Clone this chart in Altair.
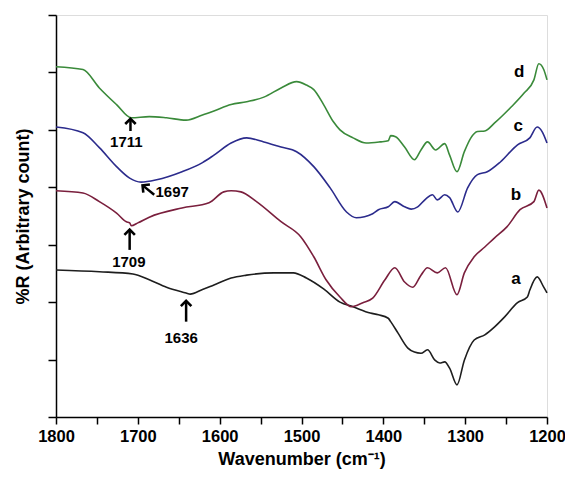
import altair as alt
import pandas as pd

# ---- spectra (wavenumber, %R arbitrary offset units) ----
wn_a = [1800,1747,1706,1686,1665,1641,1636,1621,1607,1586,1567,1534,1510,1494,1473,1453,1437,1416,1406,1394,
        1391,1382,1370,1362,1354,1346,1337,1331,1325,1319,1310,1301,1289,1276,1264,1252,1236,1224,1221,1212,1204,1200]
y_a = [2.56,2.53,2.49,2.39,2.26,2.16,2.14,2.22,2.30,2.42,2.47,2.51,2.51,2.42,2.23,2.00,1.92,1.81,1.78,1.72,
       1.66,1.46,1.20,1.13,1.11,1.17,0.99,0.94,0.96,0.85,0.56,0.99,1.34,1.43,1.57,1.74,1.99,2.09,2.21,2.44,2.26,2.16]

wn_b = [1800,1767,1747,1726,1714,1710,1708,1700,1686,1646,1613,1595,1586,1574,1555,1525,1501,1485,1470,1453,
        1439,1425,1413,1398,1386,1374,1364,1354,1346,1334,1324,1310,1301,1289,1276,1264,1249,1233,1216,1210,1200]
y_b = [3.94,3.90,3.75,3.55,3.40,3.38,3.33,3.38,3.48,3.64,3.73,3.92,3.94,3.92,3.75,3.40,3.14,2.79,2.39,2.09,
       1.92,1.99,2.07,2.39,2.60,2.35,2.26,2.47,2.60,2.51,2.60,2.13,2.51,2.79,2.96,3.12,3.31,3.61,3.75,3.95,3.64]

wn_c = [1800,1767,1747,1726,1710,1696,1677,1646,1621,1607,1586,1567,1546,1525,1506,1485,1465,1445,1433,1413,
        1406,1394,1386,1374,1366,1358,1348,1340,1334,1325,1319,1309,1297,1285,1273,1257,1236,1221,1212,1206,1200]
y_c = [5.05,4.95,4.69,4.36,4.16,4.09,4.13,4.27,4.43,4.56,4.77,4.86,4.79,4.70,4.62,4.36,3.99,3.57,3.47,3.54,
       3.61,3.66,3.75,3.66,3.62,3.66,3.80,3.87,3.78,3.87,3.82,3.57,3.99,4.22,4.27,4.44,4.74,4.86,5.05,4.97,4.77]

wn_d = [1800,1767,1747,1726,1708,1686,1665,1641,1621,1607,1586,1567,1546,1525,1506,1494,1485,1473,1461,1453,
        1437,1421,1404,1394,1391,1385,1374,1362,1354,1346,1336,1325,1319,1310,1301,1293,1285,1276,1264,1245,
        1228,1216,1210,1204,1200]
y_d = [6.10,6.05,5.73,5.44,5.21,5.23,5.21,5.17,5.26,5.33,5.44,5.49,5.57,5.73,5.84,5.78,5.70,5.44,5.14,5.00,
       4.86,4.77,4.79,4.81,4.90,4.88,4.70,4.48,4.65,4.79,4.65,4.76,4.56,4.27,4.62,4.86,4.97,4.98,5.12,5.38,
       5.64,5.87,6.15,6.05,5.87]

series_names = ["a", "b", "c", "d"]
series_colors = ["#1e1e1e", "#7a1f3d", "#2b2b8c", "#3a8a3a"]

# curve labels
lab_text = ["a", "b", "c", "d"]
lab_wn = [1238, 1238, 1235, 1234]
lab_y = [2.40, 3.87, 5.07, 6.01]

# peak annotations
ann_text = ["1711", "1697", "1709", "1636"]
ann_wn = [1714, 1658, 1711, 1647]
ann_y = [4.79, 3.92, 2.70, 1.38]
arr_tip_wn = [1709, 1693, 1710, 1641]
arr_tip_y = [5.17, 4.02, 3.24, 2.00]
arr_tail_wn = [1709, 1680, 1710, 1641]
arr_tail_y = [4.98, 3.87, 2.91, 1.66]
arr_angle = [0, 309, 0, 0]

rows = []
for name, wn, yy in zip(series_names, [wn_a, wn_b, wn_c, wn_d], [y_a, y_b, y_c, y_d]):
    for w, v in zip(wn, yy):
        rows.append({"series": name, "wn": w, "R": v})
df = pd.DataFrame(rows)

labels_df = pd.DataFrame({"t": lab_text, "wn": lab_wn, "R": lab_y})
ann_df = pd.DataFrame({"t": ann_text, "wn": ann_wn, "R": ann_y})
arr_df = pd.DataFrame({"wn": arr_tail_wn, "R": arr_tail_y, "wn2": arr_tip_wn, "R2": arr_tip_y})
head_df = pd.DataFrame({"wn": arr_tip_wn, "R": arr_tip_y, "ang": arr_angle})

FONT = "Liberation Sans"

xscale = alt.Scale(domain=[1200, 1800], reverse=True, nice=False, zero=False)
yscale = alt.Scale(domain=[0, 7], nice=False, zero=False)

xax = alt.Axis(
    values=list(range(1200, 1801, 50)),
    labelExpr="datum.value % 100 == 0 ? datum.label : ''",
    format="d", labelFlush=False, labelOverlap=False,
    title="Wavenumber (cm⁻¹)",
    grid=False, domainColor="black", tickColor="black", domainWidth=1.5, tickWidth=1.5,
    tickSize=7, labelFontSize=16.5, labelFontWeight="bold", labelFont=FONT, labelColor="black",
    labelPadding=4, titleFontSize=18, titleFontWeight="bold", titleFont=FONT, titleColor="black",
    titlePadding=6,
)
yax = alt.Axis(
    values=list(range(0, 8)), labels=False, title="%R (Arbitrary count)",
    grid=False, domainColor="black", tickColor="black", domainWidth=1.5, tickWidth=1.5,
    tickSize=8, titleFontSize=18, titleFontWeight="bold", titleFont=FONT, titleColor="black",
    titlePadding=15,
)

lines = alt.Chart(df).mark_line(strokeWidth=1.6, interpolate="monotone").encode(
    x=alt.X("wn:Q", scale=xscale, axis=xax),
    y=alt.Y("R:Q", scale=yscale, axis=yax),
    color=alt.Color("series:N", scale=alt.Scale(domain=series_names, range=series_colors), legend=None),
    detail="series:N",
)

labels = alt.Chart(labels_df).mark_text(fontSize=17, fontWeight="bold", font=FONT, color="black").encode(
    x=alt.X("wn:Q", scale=xscale), y=alt.Y("R:Q", scale=yscale), text="t:N"
)
anns = alt.Chart(ann_df).mark_text(fontSize=15, fontWeight="bold", font=FONT, color="black").encode(
    x=alt.X("wn:Q", scale=xscale), y=alt.Y("R:Q", scale=yscale), text="t:N"
)
shafts = alt.Chart(arr_df).mark_rule(strokeWidth=2.5, color="black").encode(
    x=alt.X("wn:Q", scale=xscale), y=alt.Y("R:Q", scale=yscale), x2="wn2:Q", y2="R2:Q"
)
heads = alt.Chart(head_df).mark_point(
    shape="M-1,0.75L0,-0.25L1,0.75", filled=False, strokeWidth=2.6, color="black", size=110, opacity=1
).encode(
    x=alt.X("wn:Q", scale=xscale), y=alt.Y("R:Q", scale=yscale), angle=alt.Angle("ang:Q", scale=None)
)

chart = alt.layer(lines, shafts, heads, anns, labels).properties(
    width=491, height=402,
    autosize=alt.AutoSizeParams(type="none"),
    padding={"left": 48, "top": 7, "right": 18, "bottom": 54},
).configure_view(stroke=None).configure(background="white")

chart.save("out.html", embed_options={"renderer": "svg", "actions": False})
